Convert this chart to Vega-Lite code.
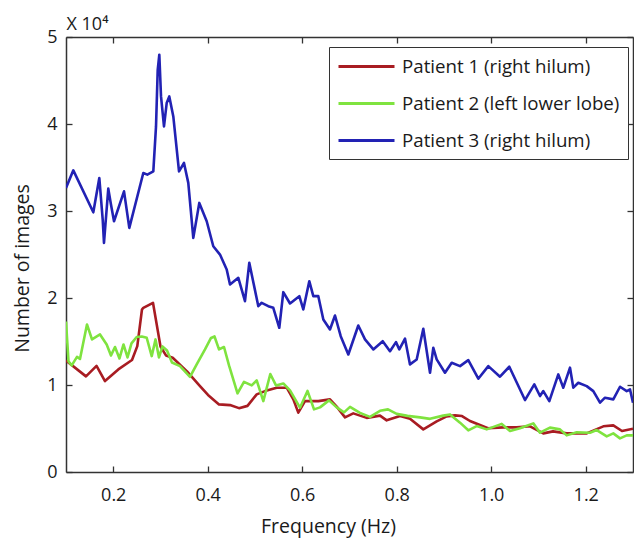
{
"$schema": "https://vega.github.io/schema/vega-lite/v6.json",
"width": 567, "height": 435,
"autosize": {"type": "none"},
"padding": {"left": 66, "top": 37, "right": 1, "bottom": 67},
"background": "white",
"config": {
  "view": {"stroke": null},
  "font": "Open Sans",
  "axis": {"grid": false, "domainColor": "#333", "domainWidth": 1.5, "tickColor": "#333", "tickWidth": 1.3, "tickSize": -6, "labelColor": "#1a1a1a", "titleColor": "#1a1a1a", "labelFont": "Open Sans", "titleFont": "Open Sans", "labelFontSize": 18, "titleFontSize": 19.5, "titleFontWeight": "normal"}
},
"data": {"values": [
{"s":"Patient 1 (right hilum)","f":0.1,"v":1.282},{"s":"Patient 1 (right hilum)","f":0.1423,"v":1.099},{"s":"Patient 1 (right hilum)","f":0.1646,"v":1.219},{"s":"Patient 1 (right hilum)","f":0.1825,"v":1.045},{"s":"Patient 1 (right hilum)","f":0.2107,"v":1.179},{"s":"Patient 1 (right hilum)","f":0.2397,"v":1.288},{"s":"Patient 1 (right hilum)","f":0.2509,"v":1.447},{"s":"Patient 1 (right hilum)","f":0.2608,"v":1.868},{"s":"Patient 1 (right hilum)","f":0.2636,"v":1.887},{"s":"Patient 1 (right hilum)","f":0.2841,"v":1.945},{"s":"Patient 1 (right hilum)","f":0.3,"v":1.443},{"s":"Patient 1 (right hilum)","f":0.3116,"v":1.34},{"s":"Patient 1 (right hilum)","f":0.3258,"v":1.313},{"s":"Patient 1 (right hilum)","f":0.3561,"v":1.156},{"s":"Patient 1 (right hilum)","f":0.3836,"v":0.987},{"s":"Patient 1 (right hilum)","f":0.4005,"v":0.886},{"s":"Patient 1 (right hilum)","f":0.4238,"v":0.777},{"s":"Patient 1 (right hilum)","f":0.4471,"v":0.769},{"s":"Patient 1 (right hilum)","f":0.4661,"v":0.734},{"s":"Patient 1 (right hilum)","f":0.4841,"v":0.76},{"s":"Patient 1 (right hilum)","f":0.5036,"v":0.892},{"s":"Patient 1 (right hilum)","f":0.5212,"v":0.93},{"s":"Patient 1 (right hilum)","f":0.5459,"v":0.969},{"s":"Patient 1 (right hilum)","f":0.5671,"v":0.969},{"s":"Patient 1 (right hilum)","f":0.5811,"v":0.835},{"s":"Patient 1 (right hilum)","f":0.5916,"v":0.682},{"s":"Patient 1 (right hilum)","f":0.6058,"v":0.815},{"s":"Patient 1 (right hilum)","f":0.634,"v":0.815},{"s":"Patient 1 (right hilum)","f":0.6587,"v":0.835},{"s":"Patient 1 (right hilum)","f":0.6729,"v":0.751},{"s":"Patient 1 (right hilum)","f":0.6905,"v":0.628},{"s":"Patient 1 (right hilum)","f":0.708,"v":0.674},{"s":"Patient 1 (right hilum)","f":0.7364,"v":0.622},{"s":"Patient 1 (right hilum)","f":0.7646,"v":0.648},{"s":"Patient 1 (right hilum)","f":0.7787,"v":0.594},{"s":"Patient 1 (right hilum)","f":0.8069,"v":0.643},{"s":"Patient 1 (right hilum)","f":0.828,"v":0.613},{"s":"Patient 1 (right hilum)","f":0.8562,"v":0.49},{"s":"Patient 1 (right hilum)","f":0.8845,"v":0.582},{"s":"Patient 1 (right hilum)","f":0.9057,"v":0.639},{"s":"Patient 1 (right hilum)","f":0.9233,"v":0.651},{"s":"Patient 1 (right hilum)","f":0.9381,"v":0.643},{"s":"Patient 1 (right hilum)","f":0.955,"v":0.586},{"s":"Patient 1 (right hilum)","f":0.9931,"v":0.502},{"s":"Patient 1 (right hilum)","f":1.0255,"v":0.513},{"s":"Patient 1 (right hilum)","f":1.0539,"v":0.513},{"s":"Patient 1 (right hilum)","f":1.082,"v":0.525},{"s":"Patient 1 (right hilum)","f":1.1102,"v":0.444},{"s":"Patient 1 (right hilum)","f":1.1307,"v":0.467},{"s":"Patient 1 (right hilum)","f":1.1597,"v":0.444},{"s":"Patient 1 (right hilum)","f":1.202,"v":0.444},{"s":"Patient 1 (right hilum)","f":1.2372,"v":0.525},{"s":"Patient 1 (right hilum)","f":1.2583,"v":0.536},{"s":"Patient 1 (right hilum)","f":1.2767,"v":0.471},{"s":"Patient 1 (right hilum)","f":1.3,"v":0.498},
{"s":"Patient 2 (left lower lobe)","f":0.1,"v":1.73},{"s":"Patient 2 (left lower lobe)","f":0.1053,"v":1.271},{"s":"Patient 2 (left lower lobe)","f":0.1121,"v":1.225},{"s":"Patient 2 (left lower lobe)","f":0.1233,"v":1.323},{"s":"Patient 2 (left lower lobe)","f":0.1296,"v":1.3},{"s":"Patient 2 (left lower lobe)","f":0.1444,"v":1.696},{"s":"Patient 2 (left lower lobe)","f":0.155,"v":1.524},{"s":"Patient 2 (left lower lobe)","f":0.172,"v":1.581},{"s":"Patient 2 (left lower lobe)","f":0.1861,"v":1.466},{"s":"Patient 2 (left lower lobe)","f":0.1952,"v":1.34},{"s":"Patient 2 (left lower lobe)","f":0.2037,"v":1.437},{"s":"Patient 2 (left lower lobe)","f":0.2132,"v":1.305},{"s":"Patient 2 (left lower lobe)","f":0.2217,"v":1.466},{"s":"Patient 2 (left lower lobe)","f":0.2302,"v":1.317},{"s":"Patient 2 (left lower lobe)","f":0.2386,"v":1.478},{"s":"Patient 2 (left lower lobe)","f":0.2496,"v":1.552},{"s":"Patient 2 (left lower lobe)","f":0.2602,"v":1.558},{"s":"Patient 2 (left lower lobe)","f":0.2708,"v":1.543},{"s":"Patient 2 (left lower lobe)","f":0.2814,"v":1.332},{"s":"Patient 2 (left lower lobe)","f":0.2894,"v":1.524},{"s":"Patient 2 (left lower lobe)","f":0.2968,"v":1.317},{"s":"Patient 2 (left lower lobe)","f":0.3042,"v":1.443},{"s":"Patient 2 (left lower lobe)","f":0.3138,"v":1.397},{"s":"Patient 2 (left lower lobe)","f":0.3243,"v":1.259},{"s":"Patient 2 (left lower lobe)","f":0.3413,"v":1.217},{"s":"Patient 2 (left lower lobe)","f":0.3624,"v":1.093},{"s":"Patient 2 (left lower lobe)","f":0.3766,"v":1.237},{"s":"Patient 2 (left lower lobe)","f":0.3942,"v":1.409},{"s":"Patient 2 (left lower lobe)","f":0.4069,"v":1.541},{"s":"Patient 2 (left lower lobe)","f":0.4143,"v":1.558},{"s":"Patient 2 (left lower lobe)","f":0.4238,"v":1.409},{"s":"Patient 2 (left lower lobe)","f":0.4344,"v":1.437},{"s":"Patient 2 (left lower lobe)","f":0.445,"v":1.225},{"s":"Patient 2 (left lower lobe)","f":0.463,"v":0.904},{"s":"Patient 2 (left lower lobe)","f":0.4767,"v":1.036},{"s":"Patient 2 (left lower lobe)","f":0.493,"v":0.995},{"s":"Patient 2 (left lower lobe)","f":0.5036,"v":1.053},{"s":"Patient 2 (left lower lobe)","f":0.5176,"v":0.815},{"s":"Patient 2 (left lower lobe)","f":0.5324,"v":1.127},{"s":"Patient 2 (left lower lobe)","f":0.5444,"v":0.995},{"s":"Patient 2 (left lower lobe)","f":0.5599,"v":1.018},{"s":"Patient 2 (left lower lobe)","f":0.5741,"v":0.938},{"s":"Patient 2 (left lower lobe)","f":0.5952,"v":0.739},{"s":"Patient 2 (left lower lobe)","f":0.6111,"v":0.932},{"s":"Patient 2 (left lower lobe)","f":0.6249,"v":0.72},{"s":"Patient 2 (left lower lobe)","f":0.6376,"v":0.743},{"s":"Patient 2 (left lower lobe)","f":0.6566,"v":0.823},{"s":"Patient 2 (left lower lobe)","f":0.6729,"v":0.743},{"s":"Patient 2 (left lower lobe)","f":0.6884,"v":0.685},{"s":"Patient 2 (left lower lobe)","f":0.7011,"v":0.749},{"s":"Patient 2 (left lower lobe)","f":0.7222,"v":0.68},{"s":"Patient 2 (left lower lobe)","f":0.7434,"v":0.634},{"s":"Patient 2 (left lower lobe)","f":0.7646,"v":0.703},{"s":"Patient 2 (left lower lobe)","f":0.7815,"v":0.72},{"s":"Patient 2 (left lower lobe)","f":0.7999,"v":0.668},{"s":"Patient 2 (left lower lobe)","f":0.8228,"v":0.645},{"s":"Patient 2 (left lower lobe)","f":0.8492,"v":0.628},{"s":"Patient 2 (left lower lobe)","f":0.8704,"v":0.611},{"s":"Patient 2 (left lower lobe)","f":0.8985,"v":0.648},{"s":"Patient 2 (left lower lobe)","f":0.9127,"v":0.662},{"s":"Patient 2 (left lower lobe)","f":0.9339,"v":0.567},{"s":"Patient 2 (left lower lobe)","f":0.9514,"v":0.479},{"s":"Patient 2 (left lower lobe)","f":0.9692,"v":0.528},{"s":"Patient 2 (left lower lobe)","f":0.9904,"v":0.49},{"s":"Patient 2 (left lower lobe)","f":1.0221,"v":0.553},{"s":"Patient 2 (left lower lobe)","f":1.0397,"v":0.471},{"s":"Patient 2 (left lower lobe)","f":1.0608,"v":0.502},{"s":"Patient 2 (left lower lobe)","f":1.089,"v":0.559},{"s":"Patient 2 (left lower lobe)","f":1.1032,"v":0.452},{"s":"Patient 2 (left lower lobe)","f":1.1243,"v":0.51},{"s":"Patient 2 (left lower lobe)","f":1.1455,"v":0.49},{"s":"Patient 2 (left lower lobe)","f":1.1597,"v":0.421},{"s":"Patient 2 (left lower lobe)","f":1.1808,"v":0.456},{"s":"Patient 2 (left lower lobe)","f":1.209,"v":0.452},{"s":"Patient 2 (left lower lobe)","f":1.2232,"v":0.482},{"s":"Patient 2 (left lower lobe)","f":1.2444,"v":0.41},{"s":"Patient 2 (left lower lobe)","f":1.2583,"v":0.444},{"s":"Patient 2 (left lower lobe)","f":1.2725,"v":0.387},{"s":"Patient 2 (left lower lobe)","f":1.2867,"v":0.421},{"s":"Patient 2 (left lower lobe)","f":1.3,"v":0.421},
{"s":"Patient 3 (right hilum)","f":0.1,"v":3.265},{"s":"Patient 3 (right hilum)","f":0.1155,"v":3.467},{"s":"Patient 3 (right hilum)","f":0.1578,"v":2.985},{"s":"Patient 3 (right hilum)","f":0.1705,"v":3.38},{"s":"Patient 3 (right hilum)","f":0.1777,"v":2.901},{"s":"Patient 3 (right hilum)","f":0.1804,"v":2.634},{"s":"Patient 3 (right hilum)","f":0.1895,"v":3.257},{"s":"Patient 3 (right hilum)","f":0.1946,"v":3.093},{"s":"Patient 3 (right hilum)","f":0.2016,"v":2.882},{"s":"Patient 3 (right hilum)","f":0.2228,"v":3.226},{"s":"Patient 3 (right hilum)","f":0.234,"v":2.806},{"s":"Patient 3 (right hilum)","f":0.2636,"v":3.437},{"s":"Patient 3 (right hilum)","f":0.2721,"v":3.418},{"s":"Patient 3 (right hilum)","f":0.2848,"v":3.456},{"s":"Patient 3 (right hilum)","f":0.2905,"v":3.972},{"s":"Patient 3 (right hilum)","f":0.2941,"v":4.623},{"s":"Patient 3 (right hilum)","f":0.2975,"v":4.796},{"s":"Patient 3 (right hilum)","f":0.3011,"v":4.317},{"s":"Patient 3 (right hilum)","f":0.3074,"v":3.972},{"s":"Patient 3 (right hilum)","f":0.3131,"v":4.241},{"s":"Patient 3 (right hilum)","f":0.3186,"v":4.317},{"s":"Patient 3 (right hilum)","f":0.3271,"v":4.087},{"s":"Patient 3 (right hilum)","f":0.3392,"v":3.456},{"s":"Patient 3 (right hilum)","f":0.3497,"v":3.552},{"s":"Patient 3 (right hilum)","f":0.3588,"v":3.323},{"s":"Patient 3 (right hilum)","f":0.3694,"v":2.691},{"s":"Patient 3 (right hilum)","f":0.3821,"v":3.093},{"s":"Patient 3 (right hilum)","f":0.3978,"v":2.882},{"s":"Patient 3 (right hilum)","f":0.4117,"v":2.595},{"s":"Patient 3 (right hilum)","f":0.4259,"v":2.499},{"s":"Patient 3 (right hilum)","f":0.4401,"v":2.327},{"s":"Patient 3 (right hilum)","f":0.4471,"v":2.155},{"s":"Patient 3 (right hilum)","f":0.4647,"v":2.232},{"s":"Patient 3 (right hilum)","f":0.4788,"v":1.963},{"s":"Patient 3 (right hilum)","f":0.4879,"v":2.404},{"s":"Patient 3 (right hilum)","f":0.507,"v":1.906},{"s":"Patient 3 (right hilum)","f":0.5142,"v":1.945},{"s":"Patient 3 (right hilum)","f":0.5281,"v":1.906},{"s":"Patient 3 (right hilum)","f":0.5387,"v":1.887},{"s":"Patient 3 (right hilum)","f":0.5514,"v":1.658},{"s":"Patient 3 (right hilum)","f":0.5599,"v":2.067},{"s":"Patient 3 (right hilum)","f":0.5741,"v":1.937},{"s":"Patient 3 (right hilum)","f":0.5938,"v":2.021},{"s":"Patient 3 (right hilum)","f":0.6022,"v":1.868},{"s":"Patient 3 (right hilum)","f":0.6149,"v":2.193},{"s":"Patient 3 (right hilum)","f":0.6234,"v":2.021},{"s":"Patient 3 (right hilum)","f":0.634,"v":2.021},{"s":"Patient 3 (right hilum)","f":0.6446,"v":1.753},{"s":"Patient 3 (right hilum)","f":0.6587,"v":1.638},{"s":"Patient 3 (right hilum)","f":0.6693,"v":1.799},{"s":"Patient 3 (right hilum)","f":0.6814,"v":1.561},{"s":"Patient 3 (right hilum)","f":0.6975,"v":1.351},{"s":"Patient 3 (right hilum)","f":0.7186,"v":1.684},{"s":"Patient 3 (right hilum)","f":0.7328,"v":1.524},{"s":"Patient 3 (right hilum)","f":0.7504,"v":1.409},{"s":"Patient 3 (right hilum)","f":0.7703,"v":1.504},{"s":"Patient 3 (right hilum)","f":0.7857,"v":1.389},{"s":"Patient 3 (right hilum)","f":0.7984,"v":1.493},{"s":"Patient 3 (right hilum)","f":0.8054,"v":1.409},{"s":"Patient 3 (right hilum)","f":0.8175,"v":1.532},{"s":"Patient 3 (right hilum)","f":0.828,"v":1.237},{"s":"Patient 3 (right hilum)","f":0.8422,"v":1.294},{"s":"Patient 3 (right hilum)","f":0.8562,"v":1.646},{"s":"Patient 3 (right hilum)","f":0.8704,"v":1.141},{"s":"Patient 3 (right hilum)","f":0.8774,"v":1.428},{"s":"Patient 3 (right hilum)","f":0.8845,"v":1.294},{"s":"Patient 3 (right hilum)","f":0.9021,"v":1.141},{"s":"Patient 3 (right hilum)","f":0.9163,"v":1.256},{"s":"Patient 3 (right hilum)","f":0.9339,"v":1.217},{"s":"Patient 3 (right hilum)","f":0.9514,"v":1.286},{"s":"Patient 3 (right hilum)","f":0.9726,"v":1.072},{"s":"Patient 3 (right hilum)","f":0.9938,"v":1.217},{"s":"Patient 3 (right hilum)","f":1.0185,"v":1.095},{"s":"Patient 3 (right hilum)","f":1.0382,"v":1.21},{"s":"Patient 3 (right hilum)","f":1.0714,"v":0.827},{"s":"Patient 3 (right hilum)","f":1.0911,"v":1.007},{"s":"Patient 3 (right hilum)","f":1.1032,"v":0.873},{"s":"Patient 3 (right hilum)","f":1.1102,"v":0.93},{"s":"Patient 3 (right hilum)","f":1.1229,"v":0.815},{"s":"Patient 3 (right hilum)","f":1.1419,"v":1.122},{"s":"Patient 3 (right hilum)","f":1.1525,"v":0.969},{"s":"Patient 3 (right hilum)","f":1.1667,"v":1.199},{"s":"Patient 3 (right hilum)","f":1.1737,"v":0.969},{"s":"Patient 3 (right hilum)","f":1.1842,"v":1.026},{"s":"Patient 3 (right hilum)","f":1.202,"v":0.987},{"s":"Patient 3 (right hilum)","f":1.216,"v":0.93},{"s":"Patient 3 (right hilum)","f":1.2302,"v":0.797},{"s":"Patient 3 (right hilum)","f":1.2407,"v":0.854},{"s":"Patient 3 (right hilum)","f":1.2583,"v":0.835},{"s":"Patient 3 (right hilum)","f":1.2725,"v":0.98},{"s":"Patient 3 (right hilum)","f":1.2867,"v":0.93},{"s":"Patient 3 (right hilum)","f":1.2937,"v":0.949},{"s":"Patient 3 (right hilum)","f":1.3,"v":0.797}
]},
"layer": [
  {
    "mark": {"type": "line", "strokeWidth": 2.6, "clip": true, "strokeJoin": "round"},
    "encoding": {
      "x": {"field": "f", "type": "quantitative", "scale": {"domain": [0.1, 1.3], "nice": false, "zero": false},
        "axis": {"orient": "bottom", "values": [0.2, 0.4, 0.6, 0.8, 1, 1.2], "title": "Frequency (Hz)", "labelPadding": 20, "titleX": 262, "titleY": 60, "titleBaseline": "alphabetic", "titleAlign": "center", "labelFlush": false}},
      "y": {"field": "v", "type": "quantitative", "scale": {"domain": [0, 5], "nice": false},
        "axis": {"orient": "left", "values": [0, 1, 2, 3, 4, 5], "title": "Number of images", "labelPadding": 15, "titleY": 231, "titleX": -34, "titleBaseline": "bottom", "titleAngle": -90}},
      "color": {"field": "s", "type": "nominal",
        "scale": {"domain": ["Patient 1 (right hilum)", "Patient 2 (left lower lobe)", "Patient 3 (right hilum)"], "range": ["#a81c22", "#7fe33f", "#2222b4"]},
        "legend": {"title": null, "orient": "none", "legendX": 263, "legendY": 10, "strokeColor": "#333", "fillColor": "white", "padding": 8, "symbolType": "M-1,0H4.6", "symbolSize": 400, "symbolStrokeWidth": 3, "labelOffset": 42, "labelFontSize": 18.7, "labelFont": "Open Sans", "labelColor": "#1a1a1a", "rowPadding": 15, "labelLimit": 400}}
    }
  },
  {
    "mark": {"type": "line", "strokeOpacity": 0},
    "encoding": {
      "x": {"field": "f", "type": "quantitative", "axis": {"orient": "top", "values": [0.2, 0.4, 0.6, 0.8, 1, 1.2], "labels": false, "title": "X 10⁴", "titleX": 0, "titleY": -8, "titleAlign": "left", "titleBaseline": "alphabetic", "titleFontSize": 18}},
      "y": {"field": "v", "type": "quantitative", "axis": {"orient": "right", "values": [0, 1, 2, 3, 4, 5], "labels": false, "title": null}}
    }
  }
],
"resolve": {"axis": {"x": "independent", "y": "independent"}}
}
